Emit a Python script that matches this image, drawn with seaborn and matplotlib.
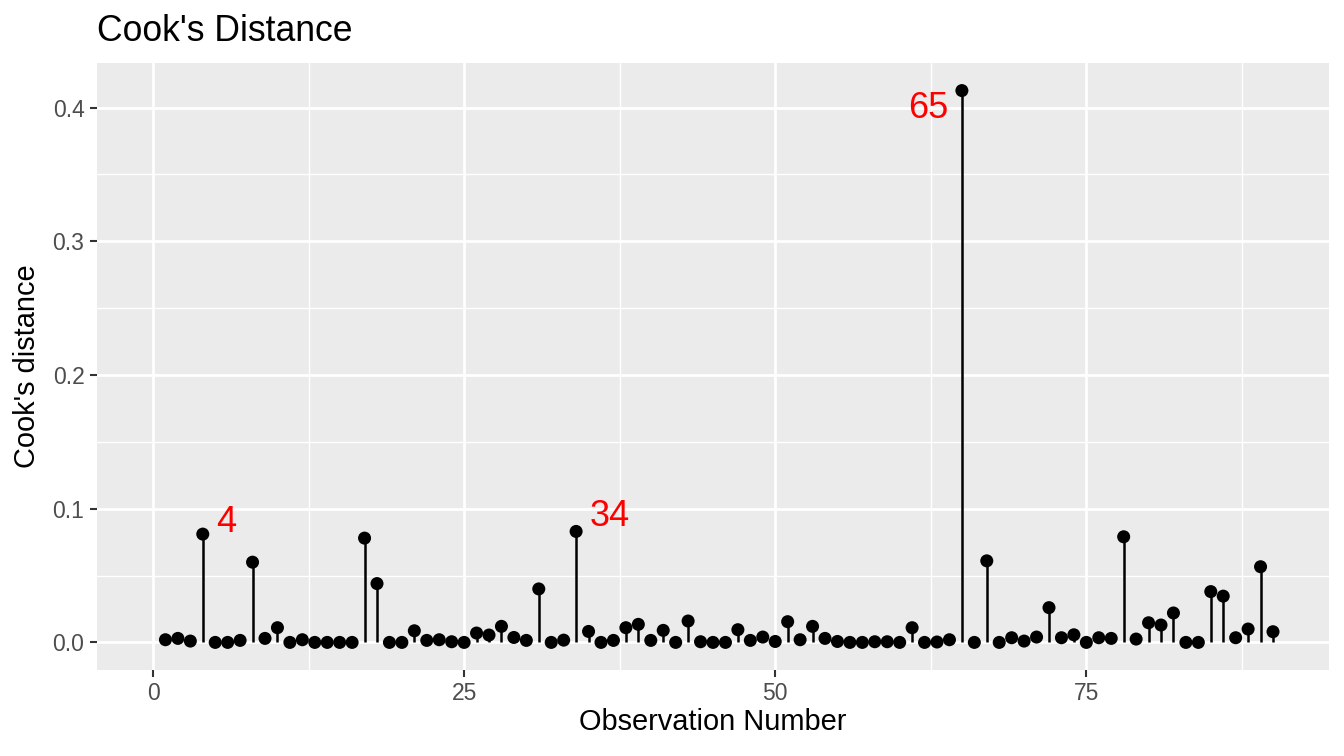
import numpy as np
import pandas as pd
import matplotlib
matplotlib.use("Agg")
import matplotlib.pyplot as plt
import seaborn as sns

# ---- data ----
observation = list(range(1, 91))
cooks_d = [
    0.002, 0.003, 0.001, 0.081, 0.000, 0.000, 0.0015, 0.060, 0.003, 0.011,   # 1-10
    0.000, 0.002, 0.000, 0.000, 0.000, 0.000, 0.078, 0.044, 0.000, 0.000,   # 11-20
    0.0087, 0.0015, 0.002, 0.0005, 0.000, 0.007, 0.0055, 0.012, 0.0037, 0.0015,  # 21-30
    0.040, 0.000, 0.0017, 0.083, 0.0082, 0.000, 0.0015, 0.011, 0.0135, 0.0015,  # 31-40
    0.009, 0.000, 0.016, 0.0005, 0.000, 0.000, 0.0095, 0.0015, 0.004, 0.0007,   # 41-50
    0.0155, 0.002, 0.012, 0.003, 0.0007, 0.000, 0.000, 0.0005, 0.0005, 0.000,   # 51-60
    0.011, 0.000, 0.0003, 0.002, 0.4127, 0.000, 0.061, 0.000, 0.0035, 0.001,   # 61-70
    0.004, 0.026, 0.0035, 0.0057, 0.000, 0.0035, 0.003, 0.079, 0.0025, 0.0147,  # 71-80
    0.013, 0.022, 0.000, 0.000, 0.038, 0.0346, 0.0035, 0.010, 0.0566, 0.008,   # 81-90
]
labeled_obs = [4, 34, 65]
label_offsets = {4: (17, 8), 34: (24, 11), 65: (-24, -13)}  # in points, text placement only

x_ticks = [0, 25, 50, 75]
y_ticks = [0.0, 0.1, 0.2, 0.3, 0.4]

df = pd.DataFrame({"obs": observation, "cooks": cooks_d})

# ---- style (ggplot2 theme_grey look) ----
sns.set_theme(style="darkgrid", rc={
    "axes.facecolor": "#EBEBEB",
    "grid.color": "white",
    "axes.edgecolor": "white",
})
plt.rcParams["font.family"] = ["Liberation Sans", "DejaVu Sans"]

fig = plt.figure(figsize=(13.44, 7.56), dpi=100)
ax = fig.add_axes([97 / 1344, 1 - 670 / 756, (1329 - 97) / 1344, (670 - 63) / 756])

# stems
ax.vlines(df["obs"], 0, df["cooks"], color="black", linewidth=1.8, zorder=3)
# points
sns.scatterplot(data=df, x="obs", y="cooks", ax=ax, color="black", s=88,
                edgecolor="none", linewidth=0, zorder=4)

# labels
for ob in labeled_obs:
    val = df.loc[df["obs"] == ob, "cooks"].iloc[0]
    dx, dy = label_offsets[ob]
    ax.annotate(str(ob), (ob, val), xytext=(dx, dy), textcoords="offset points",
                ha="center", va="center", color="red", fontsize=26, zorder=5)

# limits (ggplot 5% expansion)
xmin, xmax = 0, max(observation)
xr = xmax - xmin
ax.set_xlim(xmin - 0.05 * xr, xmax + 0.05 * xr)
ymax = max(cooks_d)
ax.set_ylim(-0.05 * ymax, ymax * 1.05)

ax.set_xticks(x_ticks)
ax.set_xticklabels([str(t) for t in x_ticks])
ax.set_yticks(y_ticks)
ax.set_yticklabels([f"{t:.1f}" for t in y_ticks])
ax.set_xticks([12.5, 37.5, 62.5, 87.5], minor=True)
ax.set_yticks([0.05, 0.15, 0.25, 0.35], minor=True)

ax.grid(which="major", color="white", linewidth=2.0)
ax.grid(which="minor", color="white", linewidth=1.0)
ax.set_axisbelow(True)
for sp in ax.spines.values():
    sp.set_visible(False)

ax.tick_params(which="major", length=5, width=1.5, color="#333333",
               labelcolor="#4D4D4D", labelsize=16.5, pad=4,
               bottom=True, left=True)
ax.tick_params(which="minor", length=0)

ax.set_xlabel("Observation Number", fontsize=20.9, color="black")
ax.set_ylabel("Cook's distance", fontsize=20.9, color="black")
ax.xaxis.set_label_coords(0.5, (670 - 722) / 607)
ax.yaxis.set_label_coords((27 - 97) / 1232, 0.5)
ax.xaxis.label.set_va("center")
ax.yaxis.label.set_va("center")

fig.text(97 / 1344, 1 - 41 / 756, "Cook's Distance", fontsize=25.6,
         ha="left", va="baseline", color="black")

fig.savefig("out.png", dpi=100)
